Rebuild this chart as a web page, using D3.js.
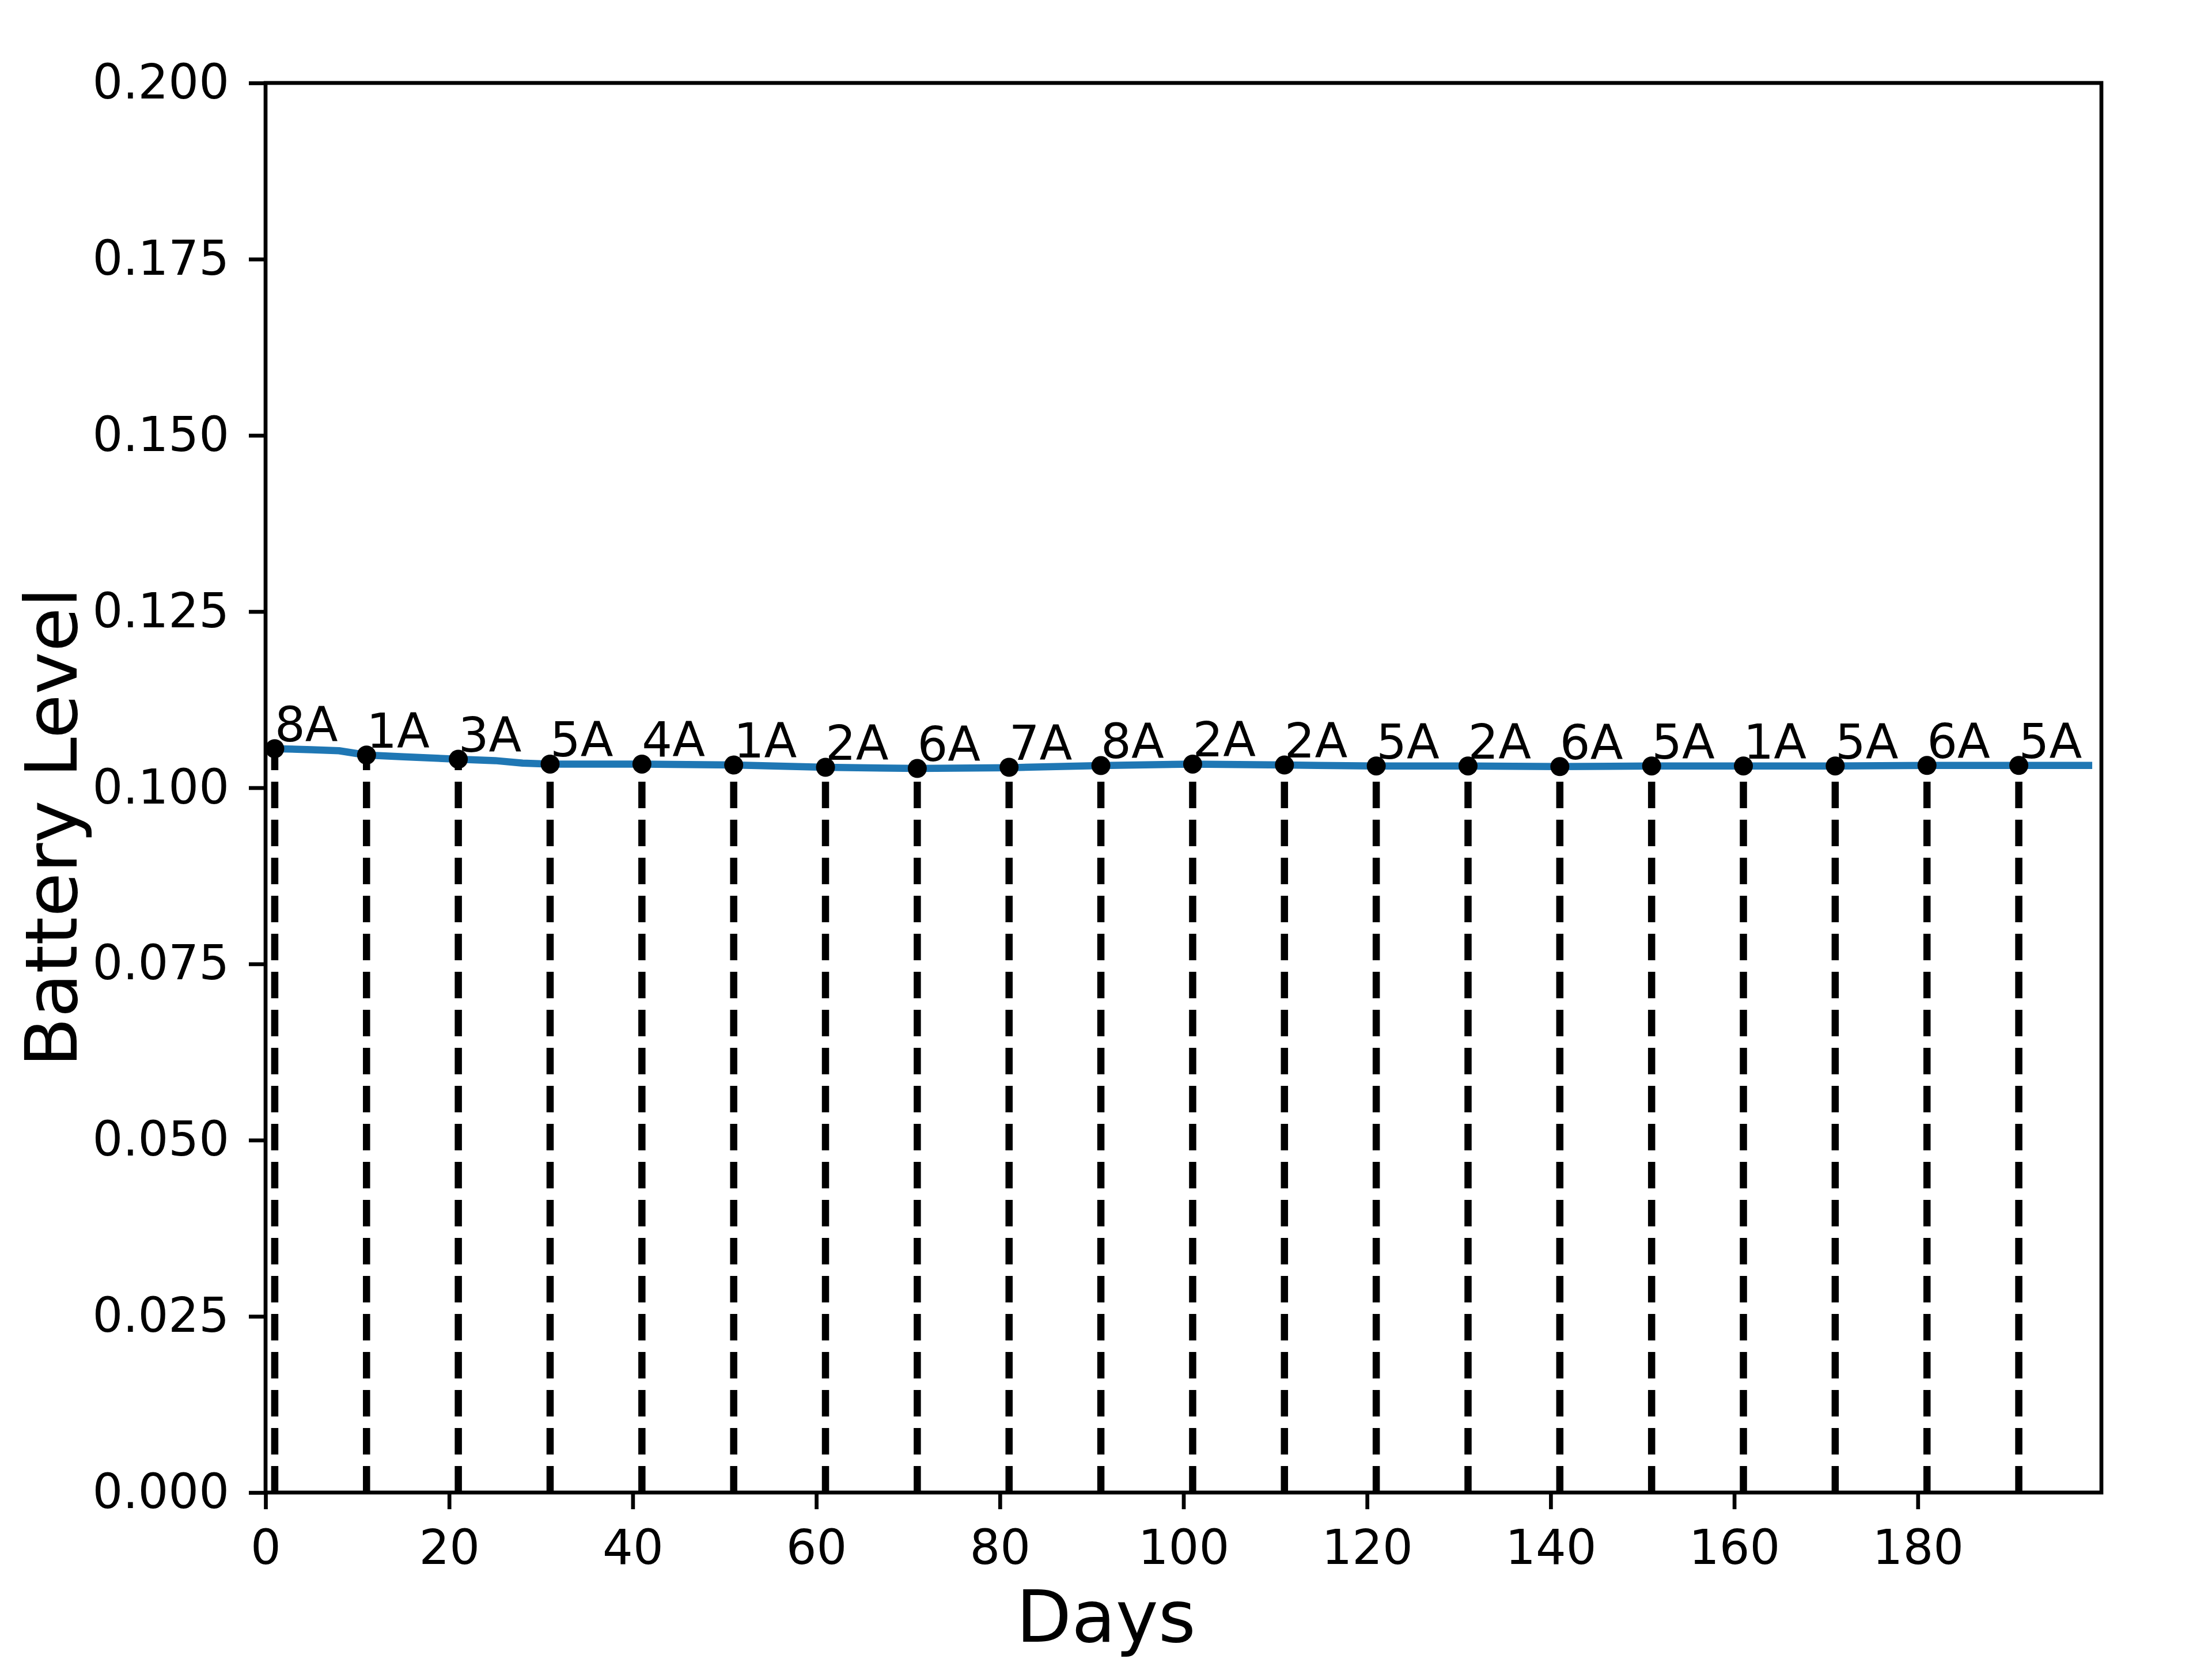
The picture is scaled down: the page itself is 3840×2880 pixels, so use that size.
<!DOCTYPE html>
<html>
<head>
<meta charset="utf-8">
<script src="https://d3js.org/d3.v7.min.js"></script>
<style>
  body { margin: 0; background: #fff; }
  text { font-family: "DejaVu Sans", sans-serif; fill: #000; }
</style>
</head>
<body>
<div id="chart"></div>
<script>
// frame
const WIDTH = 3840;
const HEIGHT = 2880;
const PLOT = {left: 461, right: 3648, top: 144, bottom: 2591};

// battery level line (day, level)
const lineDays   = [1, 5, 8, 11, 15, 21, 25, 28, 31, 41, 51, 61, 71, 81, 91, 101, 111, 121, 131, 141, 151, 161, 171, 181, 191, 199];
const lineLevels = [0.10554, 0.10540, 0.10525, 0.10464, 0.10440, 0.10404, 0.10385, 0.10350, 0.10336, 0.10336,
                    0.10322, 0.10290, 0.10273, 0.10285, 0.10314, 0.10336, 0.10322, 0.10309, 0.10309, 0.10300,
                    0.10309, 0.10309, 0.10309, 0.10317, 0.10317, 0.10317];

// events (marked with dots, dashed lines and labels)
const eventDays   = [1, 11, 21, 31, 41, 51, 61, 71, 81, 91, 101, 111, 121, 131, 141, 151, 161, 171, 181, 191];
const eventLevels = [0.10554, 0.10464, 0.10404, 0.10336, 0.10336, 0.10322, 0.10290, 0.10273, 0.10290, 0.10314,
                     0.10336, 0.10322, 0.10309, 0.10309, 0.10300, 0.10309, 0.10309, 0.10309, 0.10317, 0.10317];
const eventLabels = ["8A", "1A", "3A", "5A", "4A", "1A", "2A", "6A", "7A", "8A",
                     "2A", "2A", "5A", "2A", "6A", "5A", "1A", "5A", "6A", "5A"];

// ticks
const xTicks = [0, 20, 40, 60, 80, 100, 120, 140, 160, 180];
const yTicks = [0, 0.025, 0.05, 0.075, 0.1, 0.125, 0.15, 0.175, 0.2];

const svg = d3.select("#chart")
  .append("svg")
  .attr("width", WIDTH)
  .attr("height", HEIGHT);

const xScale = d3.scaleLinear()
  .domain([0, 200])
  .range([PLOT.left, PLOT.right]);

const yScale = d3.scaleLinear()
  .domain([0, 0.2])
  .range([PLOT.bottom, PLOT.top]);

svg.append("clipPath").attr("id", "clip")
  .append("rect")
  .attr("x", PLOT.left).attr("y", PLOT.top)
  .attr("width", PLOT.right - PLOT.left)
  .attr("height", PLOT.bottom - PLOT.top);

const plot = svg.append("g").attr("clip-path", "url(#clip)");

// the battery line
const lineData = lineDays.map((d, i) => ({day: d, level: lineLevels[i]}));
plot.append("path")
  .datum(lineData)
  .attr("fill", "none")
  .attr("stroke", "#1f77b4")
  .attr("stroke-width", 12.5)
  .attr("stroke-linejoin", "round")
  .attr("d", d3.line().x(d => xScale(d.day)).y(d => yScale(d.level)));

const events = eventDays.map((d, i) => ({day: d, level: eventLevels[i], label: eventLabels[i]}));

// dashed lines from zero up to each event
plot.selectAll(".vline")
  .data(events)
  .enter()
  .append("line")
    .attr("class", "vline")
    .attr("x1", d => xScale(d.day))
    .attr("x2", d => xScale(d.day))
    .attr("y1", yScale(0))
    .attr("y2", d => yScale(d.level))
    .attr("stroke", "#000")
    .attr("stroke-width", 12.5)
    .attr("stroke-dasharray", "46,20");

// event dots
plot.selectAll(".dot")
  .data(events)
  .enter()
  .append("circle")
    .attr("class", "dot")
    .attr("cx", d => xScale(d.day))
    .attr("cy", d => yScale(d.level))
    .attr("r", 16.5)
    .attr("fill", "#000");

// event labels
svg.selectAll(".evlabel")
  .data(events)
  .enter()
  .append("text")
    .attr("class", "evlabel")
    .attr("x", d => xScale(d.day))
    .attr("y", d => yScale(d.level) - 13)
    .attr("font-size", 83)
    .text(d => d.label);

// axes
const xAxis = d3.axisBottom(xScale)
  .tickValues(xTicks)
  .tickSize(29)
  .tickPadding(36)
  .tickSizeOuter(0);

const yAxis = d3.axisLeft(yScale)
  .tickValues(yTicks)
  .tickFormat(d3.format(".3f"))
  .tickSize(29)
  .tickPadding(34)
  .tickSizeOuter(0);

const gx = svg.append("g")
  .attr("transform", "translate(0," + PLOT.bottom + ")")
  .call(xAxis);

const gy = svg.append("g")
  .attr("transform", "translate(" + PLOT.left + ",0)")
  .call(yAxis);

[gx, gy].forEach(g => {
  g.selectAll(".domain").remove();
  g.selectAll(".tick line").attr("stroke", "#000").attr("stroke-width", 6.7);
  g.selectAll(".tick text")
    .attr("font-size", 83)
    .attr("font-family", "DejaVu Sans")
    .attr("fill", "#000");
});

// frame around the plot
svg.append("rect")
  .attr("x", PLOT.left)
  .attr("y", PLOT.top)
  .attr("width", PLOT.right - PLOT.left)
  .attr("height", PLOT.bottom - PLOT.top)
  .attr("fill", "none")
  .attr("stroke", "#000")
  .attr("stroke-width", 6.7);

// axis titles
svg.append("text")
  .attr("x", 1920)
  .attr("y", 2850)
  .attr("text-anchor", "middle")
  .attr("font-size", 125)
  .text("Days");

svg.append("text")
  .attr("transform", "translate(133,1436) rotate(-90)")
  .attr("text-anchor", "middle")
  .attr("font-size", 125)
  .text("Battery Level");
</script>
</body>
</html>
